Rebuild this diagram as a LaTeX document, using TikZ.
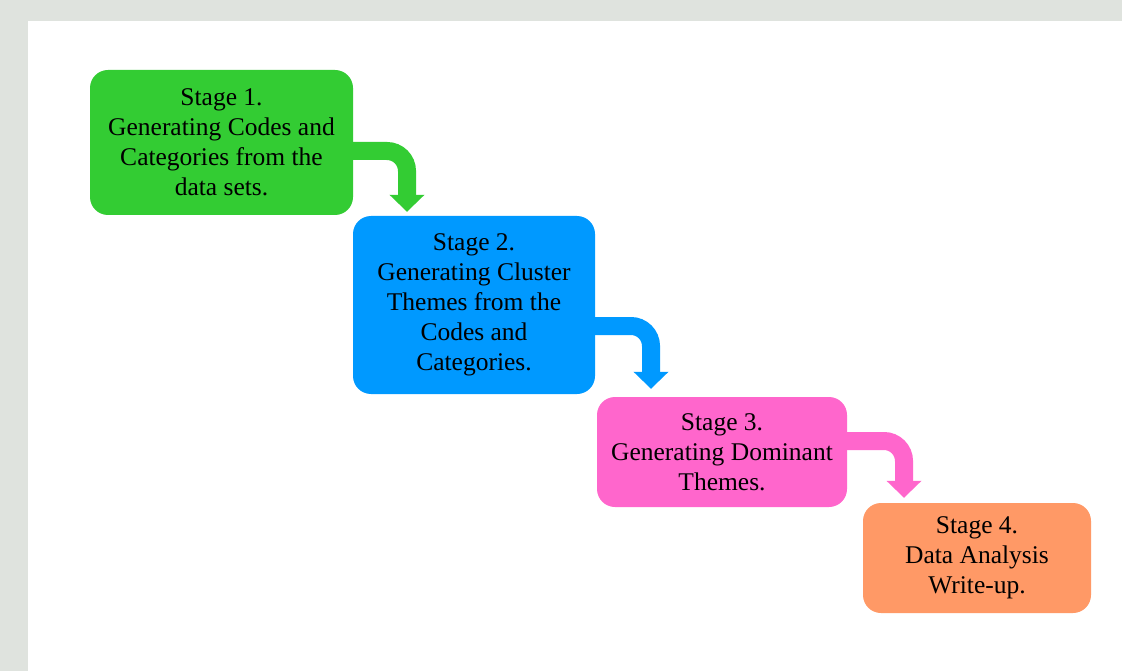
\documentclass[tikz,border=0pt]{standalone}
\usepackage{fontspec}
\setmainfont{Liberation Serif}
\usetikzlibrary{arrows.meta,calc}
\definecolor{bggray}{HTML}{DFE3DE}
\definecolor{cgreen}{HTML}{33CC33}
\definecolor{cblue}{HTML}{0099FF}
\definecolor{cpink}{HTML}{FF66CC}
\definecolor{corange}{HTML}{FF9966}
\tikzset{
  stagebox/.style={rounded corners=18pt, inner sep=2pt, align=center, text=black,
    font=\fontsize{25.5}{30}\selectfont},
  bentarrow/.style={line width=18pt, rounded corners=20pt,
    -{Triangle[width=34pt,length=17pt]}}
}
\begin{document}
\begin{tikzpicture}[x=1pt,y=-1pt]
\useasboundingbox (0,0) rectangle (1122,671);
\fill[bggray] (0,0) rectangle (1122,671);
\fill[white] (28,21) rectangle (1122,671);

\node[stagebox, fill=cgreen, minimum width=263pt, minimum height=145pt] (b1) at (221.5,142.5)
  {Stage 1.\\Generating Codes and\\Categories from the\\data sets.};
\node[stagebox, fill=cblue, minimum width=242pt, minimum height=178pt] (b2) at (474,305)
  {Stage 2.\\Generating Cluster\\Themes from the\\Codes and\\Categories.};
\node[stagebox, fill=cpink, minimum width=250pt, minimum height=110pt] (b3) at (722,452)
  {Stage 3.\\Generating Dominant\\Themes.};
\node[stagebox, fill=corange, minimum width=228pt, minimum height=110pt] (b4) at (977,558)
  {Stage 4.\\Data Analysis\\Write-up.};

\draw[bentarrow, cgreen] ([shift={(-10,8.5)}]b1.east) -| ([shift={(-67,-4)}]b2.north);
\draw[bentarrow, cblue] ([shift={(-10,21)}]b2.east) -| ([shift={(-71,-8)}]b3.north);
\draw[bentarrow, cpink] ([shift={(-10,-11)}]b3.east) -| ([shift={(-73,-5)}]b4.north);
\end{tikzpicture}
\end{document}
